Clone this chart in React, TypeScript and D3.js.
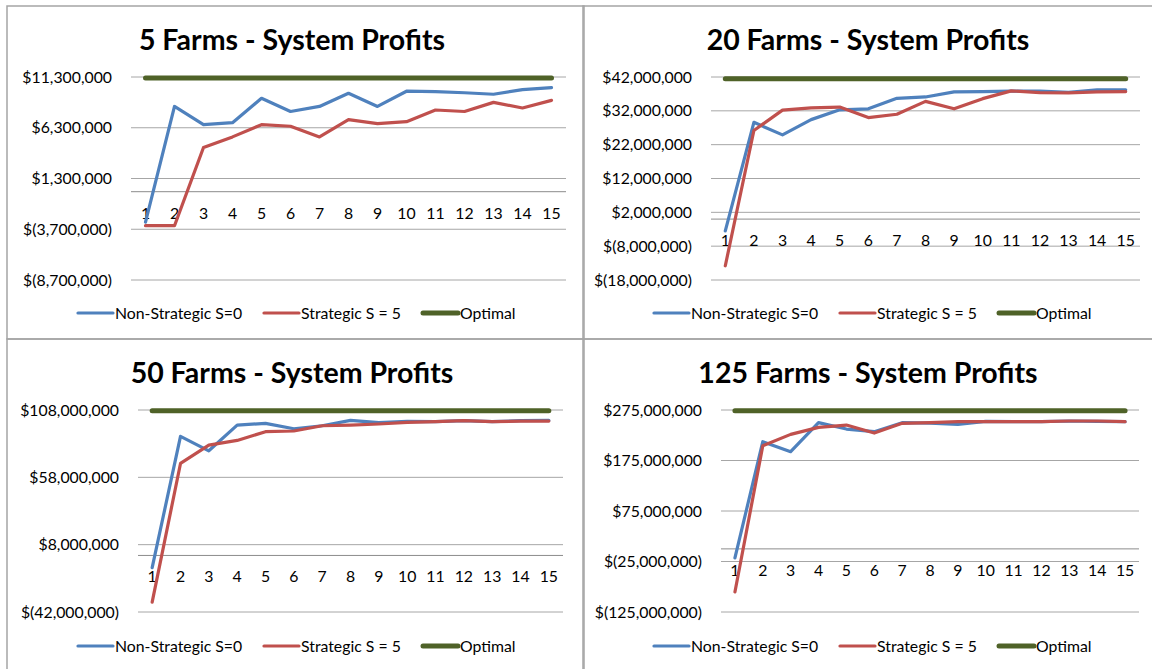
import React, { useEffect, useRef } from "react";
import * as d3 from "d3";

// categories (rounds)
const rounds = [1, 2, 3, 4, 5, 6, 7, 8, 9, 10, 11, 12, 13, 14, 15];

// 5 farms
const farms5NonStrategic = [-3.0e6, 8.4e6, 6.6e6, 6.8e6, 9.2e6, 7.9e6, 8.4e6, 9.7e6, 8.4e6, 9.9e6, 9.85e6, 9.75e6, 9.6e6, 10.05e6, 10.25e6];
const farms5Strategic = [-3.35e6, -3.35e6, 4.35e6, 5.4e6, 6.6e6, 6.45e6, 5.4e6, 7.1e6, 6.7e6, 6.9e6, 8.05e6, 7.9e6, 8.8e6, 8.25e6, 9.0e6];
const farms5Optimal = 11.2e6;
const farms5Ticks = [-8.7e6, -3.7e6, 1.3e6, 6.3e6, 11.3e6];

// 20 farms
const farms20NonStrategic = [-3.5e6, 28.6e6, 24.9e6, 29.4e6, 32.3e6, 32.6e6, 35.7e6, 36.1e6, 37.6e6, 37.7e6, 37.8e6, 37.8e6, 37.5e6, 38.2e6, 38.2e6];
const farms20Strategic = [-13.8e6, 26.2e6, 32.2e6, 32.9e6, 33.1e6, 30.0e6, 31.0e6, 34.8e6, 32.6e6, 35.6e6, 37.9e6, 37.4e6, 37.3e6, 37.6e6, 37.7e6];
const farms20Optimal = 41.5e6;
const farms20Ticks = [-18e6, -8e6, 2e6, 12e6, 22e6, 32e6, 42e6];

// 50 farms
const farms50NonStrategic = [-9.1e6, 88.4e6, 77.7e6, 96.8e6, 98.1e6, 94.1e6, 96.3e6, 100.3e6, 98.6e6, 99.6e6, 99.3e6, 100.1e6, 99.3e6, 100.1e6, 100.3e6];
const farms50Strategic = [-34.7e6, 68.3e6, 81.9e6, 85.4e6, 91.9e6, 92.4e6, 96.3e6, 96.8e6, 97.6e6, 98.8e6, 99.3e6, 100.1e6, 99.3e6, 99.8e6, 99.8e6];
const farms50Optimal = 107.5e6;
const farms50Ticks = [-42e6, 8e6, 58e6, 108e6];

// 125 farms
const farms125NonStrategic = [-17.9e6, 212.2e6, 192.4e6, 249.9e6, 237.3e6, 232e6, 249.9e6, 249.2e6, 246.6e6, 252.5e6, 251.9e6, 251.9e6, 253.2e6, 252.5e6, 251.9e6];
const farms125Strategic = [-85.3e6, 204.3e6, 226.7e6, 240.6e6, 245.2e6, 229.4e6, 248.6e6, 249.9e6, 251.9e6, 251.9e6, 251.9e6, 251.9e6, 253.2e6, 253.2e6, 251.9e6];
const farms125Optimal = 273.7e6;
const farms125Ticks = [-125e6, -25e6, 75e6, 175e6, 275e6];

const seriesNames = ["Non-Strategic S=0", "Strategic S = 5", "Optimal"];
const colors = ["#4F81BD", "#C0504D", "#4F6228"];

const panels = [
  { title: "5 Farms - System Profits", box: [7, 6], plot: [131, 566, 77, 280], ticks: farms5Ticks, ns: farms5NonStrategic, st: farms5Strategic, opt: farms5Optimal },
  { title: "20 Farms - System Profits", box: [583, 6], plot: [711, 1140, 77, 280], ticks: farms20Ticks, ns: farms20NonStrategic, st: farms20Strategic, opt: farms20Optimal },
  { title: "50 Farms - System Profits", box: [7, 339], plot: [138, 563, 410, 612], ticks: farms50Ticks, ns: farms50NonStrategic, st: farms50Strategic, opt: farms50Optimal },
  { title: "125 Farms - System Profits", box: [583, 339], plot: [721, 1139, 410, 612], ticks: farms125Ticks, ns: farms125NonStrategic, st: farms125Strategic, opt: farms125Optimal },
];

const W = 1152;
const H = 669;
const FONT = "Lato, 'Open Sans', sans-serif";

const money = (v: number) => {
  const s = d3.format(",.0f")(Math.abs(v));
  return v < 0 ? `$(${s})` : `$${s}`;
};

const App = () => {
  const ref = useRef<SVGSVGElement | null>(null);

  useEffect(() => {
    const svg = d3.select(ref.current);
    svg.selectAll("*").remove();
    svg.append("rect").attr("width", W).attr("height", H).attr("fill", "#fff");

    panels.forEach((p) => {
      const [bx, by] = p.box;
      const [x0, x1, y0, y1] = p.plot;
      const g = svg.append("g");

      // chart border
      g.append("rect")
        .attr("x", bx)
        .attr("y", by)
        .attr("width", 577)
        .attr("height", 333)
        .attr("fill", "none")
        .attr("stroke", "#a5a5a5")
        .attr("stroke-width", 1.5);

      g.append("text")
        .attr("x", bx + 285)
        .attr("y", by + 44)
        .attr("text-anchor", "middle")
        .attr("font-family", FONT)
        .attr("font-weight", "bold")
        .attr("font-size", 28.5)
        .text(p.title);

      const x = d3.scaleBand<number>().domain(rounds).range([x0, x1]);
      const cx = (r: number) => (x(r) as number) + x.bandwidth() / 2;
      const y = d3
        .scaleLinear()
        .domain([p.ticks[0], p.ticks[p.ticks.length - 1]])
        .range([y1, y0]);

      // gridlines + y labels
      p.ticks.forEach((t) => {
        g.append("line")
          .attr("x1", x0)
          .attr("x2", x1)
          .attr("y1", y(t))
          .attr("y2", y(t))
          .attr("stroke", "#a6a6a6")
          .attr("stroke-width", 1);
        g.append("text")
          .attr("x", x0 - 19)
          .attr("y", y(t) + 5.5)
          .attr("text-anchor", "end")
          .attr("font-family", FONT)
          .attr("font-size", 15.8)
          .attr("fill", "#000")
          .text(money(t));
      });

      // category axis at zero
      g.append("line")
        .attr("x1", x0)
        .attr("x2", x1)
        .attr("y1", y(0))
        .attr("y2", y(0))
        .attr("stroke", "#8c8c8c")
        .attr("stroke-width", 1);
      rounds.forEach((r) => {
        g.append("text")
          .attr("x", cx(r))
          .attr("y", y(0) + 27)
          .attr("text-anchor", "middle")
          .attr("font-family", FONT)
          .attr("font-size", 15.8)
          .text(r);
      });

      const line = d3
        .line<number>()
        .x((_, i) => cx(rounds[i]))
        .y((v) => y(v));

      g.append("path")
        .attr("d", line(rounds.map(() => p.opt)))
        .attr("fill", "none")
        .attr("stroke", colors[2])
        .attr("stroke-width", 5)
        .attr("stroke-linecap", "round");
      [p.ns, p.st].forEach((vals, i) => {
        g.append("path")
          .attr("d", line(vals))
          .attr("fill", "none")
          .attr("stroke", colors[i])
          .attr("stroke-width", 3.2)
          .attr("stroke-linejoin", "round")
          .attr("stroke-linecap", "round");
      });

      // legend
      const ly = by + 307;
      const legendX = [71, 257, 416];
      seriesNames.forEach((name, i) => {
        const lx = bx + legendX[i];
        g.append("line")
          .attr("x1", lx)
          .attr("x2", lx + 35)
          .attr("y1", ly)
          .attr("y2", ly)
          .attr("stroke", colors[i])
          .attr("stroke-width", i === 2 ? 5 : 3.2)
          .attr("stroke-linecap", "round");
        g.append("text")
          .attr("x", lx + 37)
          .attr("y", ly + 5.5)
          .attr("font-family", FONT)
          .attr("font-size", 15.8)
          .text(name);
      });
    });
  }, []);

  return (
    <svg
      ref={ref}
      width={W}
      height={H}
      style={{ position: "absolute", left: 0, top: 0 }}
    ></svg>
  );
};

export default App;
